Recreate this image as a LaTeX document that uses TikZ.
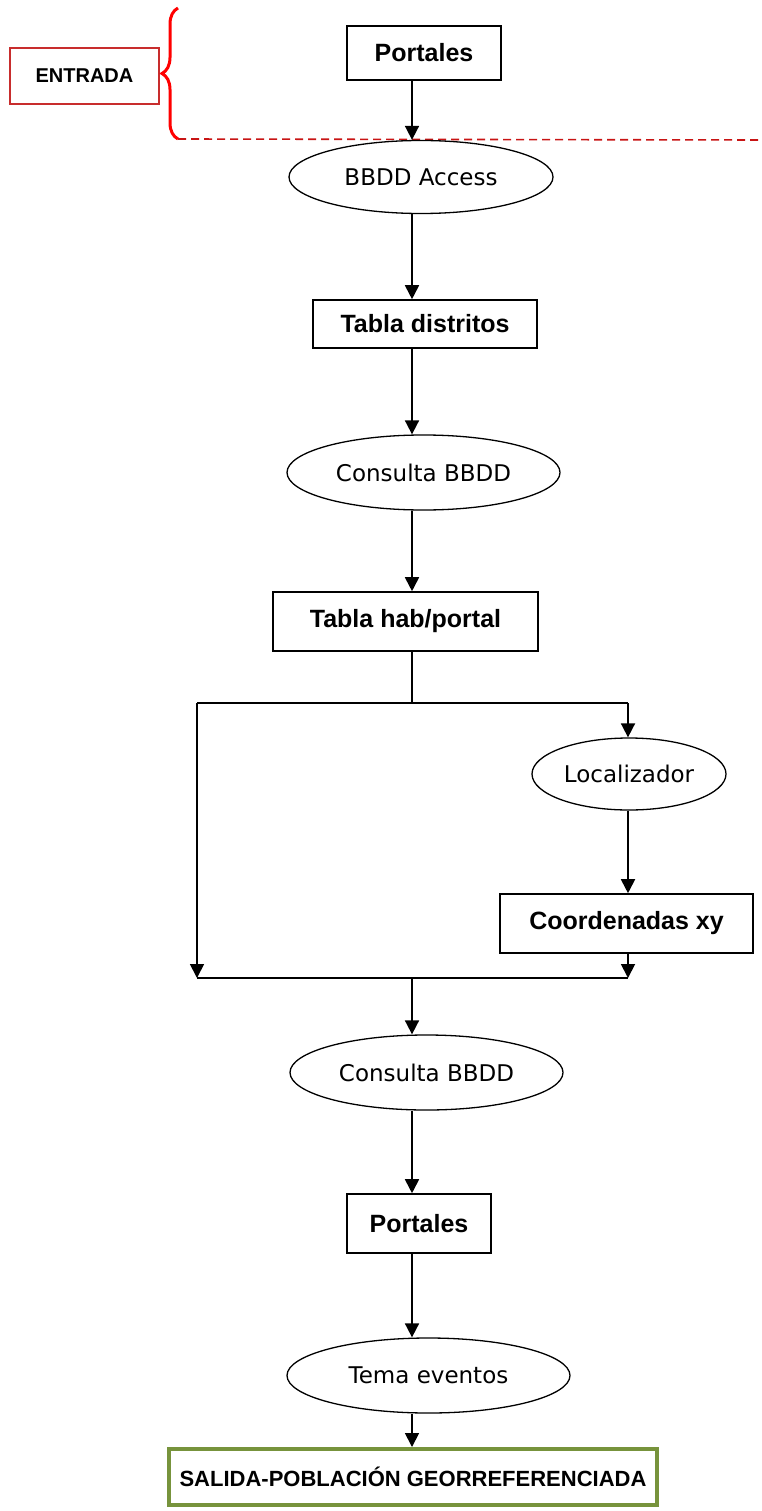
\documentclass[tikz,border=0pt]{standalone}
\usepackage{fontspec}
\setmainfont{Liberation Sans}
\newfontfamily\ovalfont{DejaVu Sans}
\usepackage{xcolor}
\usetikzlibrary{arrows.meta}
\usetikzlibrary{shapes.geometric}
\usetikzlibrary{decorations.pathreplacing}
\definecolor{entryred}{RGB}{200,45,45}
\definecolor{linered}{RGB}{200,20,20}
\definecolor{exitgreen}{RGB}{119,147,60}

\begin{document}
\begin{tikzpicture}[x=1pt,y=-1pt,
    procbox/.style={draw, line width=1.6pt, inner sep=0pt, font=\fontsize{25}{30}\selectfont\bfseries},
    oval/.style={draw, ellipse, line width=1.3pt, inner sep=0pt, font=\ovalfont\fontsize{23}{28}\selectfont},
    flow/.style={line width=1.8pt, -{Triangle[length=14pt,width=14pt]}},
    link/.style={line width=1.8pt}]

      \useasboundingbox (0,0) rectangle (761,1511);

      % Input zone
      \node[draw=entryred, line width=1.6pt, inner sep=0pt, minimum width=149pt, minimum height=56pt,
            font=\fontsize{20}{24}\selectfont\bfseries] (entrada) at (84.5,76) {ENTRADA};
      \coordinate (bracebot) at (178,139);
      \coordinate (bracetop) at (178,8);
      \coordinate (limitend) at (761,140);
      \draw[red, line width=3pt, decorate, decoration={brace, amplitude=16pt}] (bracebot) -- (bracetop);
      \draw[linered, line width=1.6pt, dash pattern=on 8pt off 5pt] (bracebot) -- (limitend);

      % Main column
      \node[procbox, minimum width=154pt, minimum height=54pt] (portin) at (424,53) {Portales};
      \node[oval, minimum width=264pt, minimum height=73pt] (access) at (421,177) {BBDD Access};
      \node[procbox, minimum width=224pt, minimum height=48pt] (distritos) at (425,324) {Tabla distritos};
      \node[oval, minimum width=273pt, minimum height=75pt] (consulta) at (423.5,472.5) {Consulta BBDD};
      \node[procbox, minimum width=265pt, minimum height=59pt] (habportal) at (405.5,621.5) {Tabla hab/portal};

      % Branch to the right
      \node[oval, minimum width=194pt, minimum height=72pt] (localiz) at (629,774) {Localizador};
      \node[procbox, minimum width=253pt, minimum height=59pt] (coords) at (626.5,923.5) {Coordenadas xy};

      % Lower column
      \node[oval, minimum width=273pt, minimum height=75pt] (consulta2) at (426.5,1072.5) {Consulta BBDD};
      \node[procbox, minimum width=144pt, minimum height=59pt] (portout) at (419,1223.5) {Portales};
      \node[oval, minimum width=283pt, minimum height=75pt] (eventos) at (428.5,1375.5) {Tema eventos};
      \node[draw=exitgreen, line width=4pt, inner sep=0pt, minimum width=488pt, minimum height=56pt,
            font=\fontsize{22}{26}\selectfont\bfseries] (salida) at (413,1477) {SALIDA-POBLACIÓN GEORREFERENCIADA};

      % Junction points
      \coordinate (spine) at (412,0);
      \coordinate (split) at (412,703);
      \coordinate (splitL) at (197,703);
      \coordinate (splitR) at (628,703);
      \coordinate (joinL) at (197,978);
      \coordinate (joinR) at (628,978);
      \coordinate (join) at (412,978);

      % Arrows
      \draw[flow] (portin.south -| spine) -- (access.north -| spine);
      \draw[flow] (access.south -| spine) -- (distritos.north -| spine);
      \draw[flow] (distritos.south -| spine) -- (consulta.north -| spine);
      \draw[flow] (consulta.south -| spine) -- (habportal.north -| spine);
      \draw[link] (habportal.south -| spine) -- (split);
      \draw[link] (splitL) -- (splitR);
      \draw[flow] (splitL) -- (joinL);
      \draw[flow] (splitR) -- (localiz.north -| splitR);
      \draw[flow] (localiz.south -| splitR) -- (coords.north -| splitR);
      \draw[flow] (coords.south -| splitR) -- (joinR);
      \draw[link] (joinL) -- (joinR);
      \draw[flow] (join) -- (consulta2.north -| spine);
      \draw[flow] (consulta2.south -| spine) -- (portout.north -| spine);
      \draw[flow] (portout.south -| spine) -- (eventos.north -| spine);
      \draw[flow] (eventos.south -| spine) -- (salida.north -| spine);
\end{tikzpicture}
\end{document}
